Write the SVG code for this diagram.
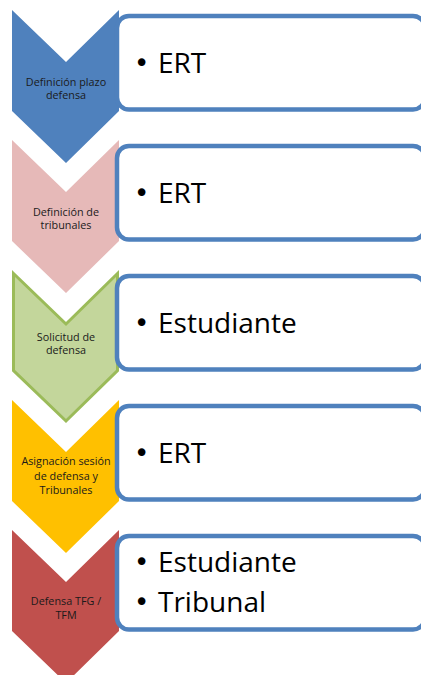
<svg xmlns="http://www.w3.org/2000/svg" width="421" height="675" viewBox="0 0 421 675">
<style>
.box{fill:#fff;stroke:#4F81BD;stroke-width:4.5}
.lbl{font-family:"Open Sans","Liberation Sans",sans-serif;font-size:10.8px;fill:#1a1a1a;text-anchor:middle}
.big{font-family:"Open Sans","Liberation Sans",sans-serif;font-size:28px;fill:#000}
.bul{font-family:"DejaVu Sans",sans-serif;font-size:26px;fill:#000;text-anchor:middle}
</style>
<defs>
<path id="chev" d="M12,10 L66,62 L119,10 L119,111 L66,163 L12,111 Z"/>
</defs>
<rect width="421" height="675" fill="#fff"/>
<g id="node1">
<use href="#chev" fill="#4F81BD"/>
<rect class="box" x="117" y="16" width="308" height="93.5" rx="12"/>
<text class="lbl" x="66" y="85.5">Definición plazo</text>
<text class="lbl" x="66" y="99">defensa</text>
<text class="bul" x="141.7" y="72">•</text>
<text class="big" x="158" y="73">ERT</text>
</g>
<g id="node2" transform="translate(0,130)">
<use href="#chev" fill="#E6B9B8"/>
<rect class="box" x="117" y="16" width="308" height="93.5" rx="12"/>
<text class="lbl" x="66" y="85.5">Definición de</text>
<text class="lbl" x="66" y="99">tribunales</text>
<text class="bul" x="141.7" y="72">•</text>
<text class="big" x="158" y="73">ERT</text>
</g>
<g id="node3" transform="translate(0,260)">
<path d="M13.5,13.5 L66,64 L117.5,13.5 L117.5,110.5 L66,161 L13.5,110.5 Z" fill="#C3D69B" stroke="#9BBB59" stroke-width="3"/>
<rect class="box" x="117" y="16" width="308" height="93.5" rx="12"/>
<text class="lbl" x="66" y="80.5">Solicitud de</text>
<text class="lbl" x="66" y="94">defensa</text>
<text class="bul" x="141.7" y="72">•</text>
<text class="big" x="158" y="73">Estudiante</text>
</g>
<g id="node4" transform="translate(0,390)">
<use href="#chev" fill="#FFC000"/>
<rect class="box" x="117" y="16" width="308" height="93.5" rx="12"/>
<text class="lbl" x="66" y="75">Asignación sesión</text>
<text class="lbl" x="66" y="90">de defensa y</text>
<text class="lbl" x="66" y="104">Tribunales</text>
<text class="bul" x="141.7" y="72">•</text>
<text class="big" x="158" y="73">ERT</text>
</g>
<g id="node5" transform="translate(0,520)">
<use href="#chev" fill="#C0504D"/>
<rect class="box" x="117" y="16" width="308" height="93.5" rx="12"/>
<text class="lbl" x="66" y="85">Defensa TFG /</text>
<text class="lbl" x="66" y="99">TFM</text>
<text class="bul" x="141.7" y="51">•</text>
<text class="big" x="158" y="52">Estudiante</text>
<text class="bul" x="141.7" y="91">•</text>
<text class="big" x="158" y="92">Tribunal</text>
</g>
<g id="connectors"/>
</svg>
